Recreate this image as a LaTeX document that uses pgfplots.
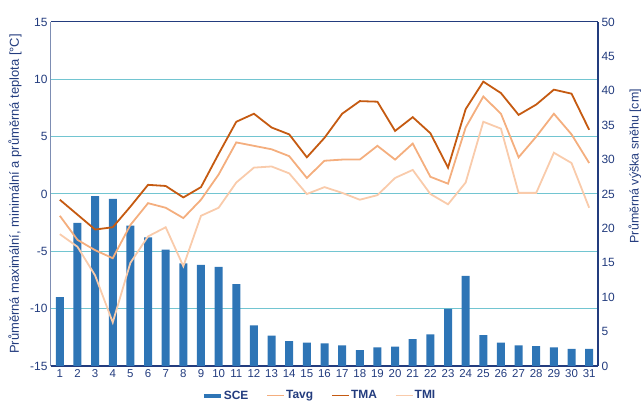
\documentclass[border=0pt]{standalone}
\usepackage{fontspec}
\setmainfont{Liberation Sans}
\usepackage{pgfplots}
\usepackage{pgfplotstable}
\pgfplotsset{compat=1.18}

\definecolor{navy}{HTML}{233C7E}
\definecolor{axisgray}{HTML}{7D8DB3}
\definecolor{gridteal}{HTML}{72C5D1}
\definecolor{snowblue}{HTML}{2E75B6}
\definecolor{tmacol}{HTML}{C55A11}
\definecolor{tavgcol}{HTML}{F4AE7E}
\definecolor{tmicol}{HTML}{F9CBAB}

% daily values: max, mean and min temperature [deg C], snow depth [cm]
\pgfplotstableread{
day tma   tavg  tmi   sce
1   -0.5  -1.9  -3.5  10.0
2   -1.8  -4.0  -4.6  20.8
3   -3.1  -4.9  -7.1  24.7
4   -2.9  -5.6  -11.2 24.3
5   -1.1  -2.7  -6.0  20.4
6    0.8  -0.8  -3.7  18.7
7    0.7  -1.2  -2.9  16.9
8   -0.3  -2.1  -6.3  14.9
9    0.6  -0.5  -1.9  14.7
10   3.5   1.7  -1.2  14.4
11   6.3   4.5   1.0  11.9
12   7.0   4.2   2.3   5.9
13   5.8   3.9   2.4   4.4
14   5.2   3.3   1.8   3.6
15   3.2   1.4   0.0   3.4
16   4.9   2.9   0.6   3.3
17   7.0   3.0   0.1   3.0
18   8.1   3.0  -0.5   2.3
19   8.05  4.2  -0.1   2.7
20   5.5   3.0   1.4   2.8
21   6.7   4.4   2.1   3.9
22   5.3   1.5   0.0   4.6
23   2.3   0.9  -0.9   8.3
24   7.4   5.8   1.0  13.1
25   9.8   8.5   6.3   4.5
26   8.8   7.0   5.7   3.4
27   6.9   3.2   0.1   3.0
28   7.8   5.0   0.1   2.9
29   9.1   7.0   3.6   2.7
30   8.75  5.2   2.7   2.5
31   5.6   2.7  -1.2   2.5
}\datatable

\pgfplotsset{
  base/.style={
    scale only axis, width=547bp, height=344bp,
    at={(0,0)}, anchor=south west,
    xmin=0.5, xmax=31.5,
    /pgf/number format/assume math mode=true,
    tick style={draw=none},
    ticklabel style={text=navy},
    label style={text=navy},
  }
}

\begin{document}
\begin{tikzpicture}
\useasboundingbox (-51bp,-35bp) rectangle (590bp,366bp);

% temperature frame with grid
\begin{axis}[base,
  ymin=-15, ymax=15, ytick={-15,-10,...,15},
  xtick={1,...,31},
  axis x line*=bottom, axis y line*=left,
  x axis line style={navy, line width=1.6bp, -},
  y axis line style={axisgray, line width=1bp, -},
  ymajorgrids, grid style={gridteal, line width=1bp},
  xticklabel style={font=\fontsize{11.5}{13}\selectfont},
  yticklabel style={font=\fontsize{12}{14}\selectfont},
  ylabel={Průměrná maximální, minimální a průměrná teplota [°C]},
  ylabel style={at={(axis description cs:-0.066,0.5)}, anchor=center,
    font=\fontsize{13}{15}\selectfont},
]
\draw[navy, line width=1bp] (rel axis cs:0,1) -- (rel axis cs:1,1);
\end{axis}

% snow depth bars
\begin{axis}[base,
  ymin=0, ymax=50, ytick={0,5,...,50},
  xtick=\empty,
  axis x line=none, axis y line*=right,
  y axis line style={navy, line width=1.2bp, -},
  yticklabel style={font=\fontsize{12}{14}\selectfont},
  ylabel={Průměrná výška sněhu [cm]},
  ylabel style={at={(axis description cs:1.0676,0.581)}, anchor=center,
    font=\fontsize{12.5}{15}\selectfont},
]
\addplot[ybar, bar width=8bp, bar shift=0pt, fill=snowblue, draw=none]
  table[x=day, y=sce] {\datatable};
\end{axis}

% temperature lines and legend
\begin{axis}[base,
  ymin=-15, ymax=15,
  axis lines=none, xtick=\empty, ytick=\empty,
  legend columns=4,
  legend style={draw=none, fill=none,
    at={(axis description cs:0.49,-0.086)}, anchor=center,
    font=\fontsize{12}{14}\selectfont\bfseries, text=navy,
    nodes={inner sep=1bp},
    /tikz/every even column/.append style={column sep=17bp}},
]
\addlegendimage{line width=4bp, snowblue}
\addlegendentry{SCE}
\addplot[tavgcol, line width=1.8bp] table[x=day, y=tavg] {\datatable};
\addlegendentry{Tavg}
\addplot[tmacol, line width=1.8bp] table[x=day, y=tma] {\datatable};
\addlegendentry{TMA}
\addplot[tmicol, line width=1.8bp] table[x=day, y=tmi] {\datatable};
\addlegendentry{TMI}
\end{axis}
\end{tikzpicture}
\end{document}
